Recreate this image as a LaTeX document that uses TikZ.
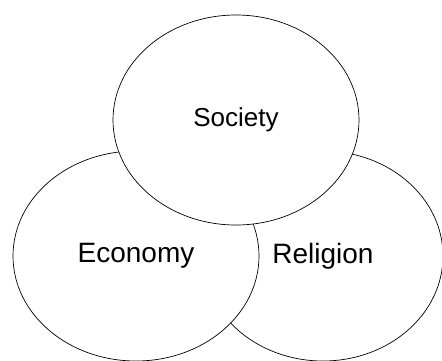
\documentclass[tikz,border=0pt]{standalone}
\usepackage{fontspec}
\setmainfont{Liberation Sans}
\usepackage{tikz}
\usetikzlibrary{shapes.geometric}
\tikzset{
  bubble/.style={ draw, ellipse, fill=white, line width=0.7pt, inner sep=0pt, minimum width=246pt, minimum height=210pt, font=\fontsize{28}{32}\selectfont }
}
\tikzset{
  bubbleR/.style={ bubble, minimum width=240pt }
}

\begin{document}
\begin{tikzpicture}[x=1pt, y=-1pt]
      \useasboundingbox (0, 0) rectangle (442, 360);
      \node[bubbleR] (rel) at (323, 256) {Religion};
      \node[bubble] (eco) at (136, 256) {Economy};
      \node[bubble, font=\fontsize{26}{30}\selectfont] (soc) at (236, 120) {Society};
    \end{tikzpicture}
\end{document}
